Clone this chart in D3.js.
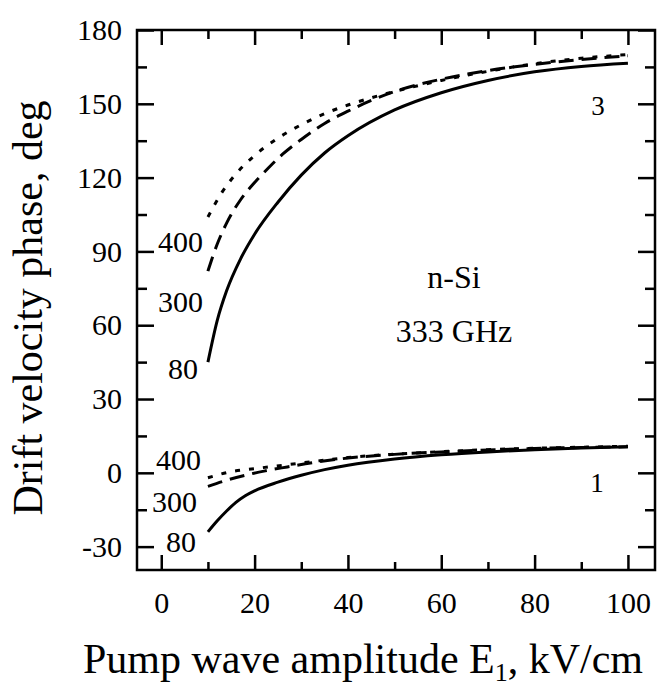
<!DOCTYPE html>
<html lang="en">
<head>
  <meta charset="UTF-8">
  <title>Drift velocity phase</title>
  <style>
    body { margin: 0; background: #fff; }
    svg text { font-family: "Liberation Serif", "DejaVu Serif", serif; fill: #000; }
    .axis path { display: none; }
    .axis line { stroke: #000; stroke-width: 2.5px; }
  </style>
</head>
<body>
  <svg id="chart" width="659" height="694"></svg>
  <script src="https://d3js.org/d3.v7.min.js"></script>
  <script>
    // harmonic 3 (upper group)
    const up80X = [10, 12, 14, 17, 20, 25, 30, 35, 40, 50, 60, 70, 80, 90, 100];
    const up80Y = [45, 62, 74, 87, 97, 110, 121, 130, 137, 147.5, 154.5, 159.5, 163, 165.2, 166.5];
    const up300X = [10, 12, 14, 17, 20, 23, 26, 30, 35, 40, 50, 60, 70, 80, 90, 100];
    const up300Y = [82, 93, 101.5, 111, 118, 124, 129.5, 135.5, 142, 147, 155, 160, 163.5, 166, 168, 169.5];
    const up400X = [10, 13, 16, 20, 25, 30, 35, 40, 50, 60, 70, 80, 90, 100];
    const up400Y = [104, 114, 121.5, 129, 136, 141.5, 146, 149.5, 155, 159.5, 163.2, 166.3, 168.5, 170];

    // harmonic 1 (lower group)
    const lo80X = [10, 12, 14, 16, 18, 20, 25, 30, 35, 40, 50, 60, 70, 80, 90, 100];
    const lo80Y = [-24, -19.5, -15.5, -12, -9.3, -7.3, -3.8, -1, 1.3, 3.1, 5.6, 7.3, 8.5, 9.4, 10.1, 10.6];
    const lo300X = [10, 14, 18, 22, 27, 33, 40, 50, 60, 70, 80, 90, 100];
    const lo300Y = [-5.5, -3, -1, 0.7, 2.4, 4.3, 6, 7.5, 8.5, 9.3, 9.9, 10.3, 10.6];
    const lo400X = [10, 15, 20, 27, 33, 40, 50, 60, 70, 80, 90, 100];
    const lo400Y = [-2, 0.5, 1.7, 3.3, 4.7, 6.2, 7.6, 8.6, 9.4, 10, 10.4, 10.8];

    const xTicks = [0, 20, 40, 60, 80, 100];
    const xMinor = [10, 30, 50, 70, 90];
    const yTicks = [-30, 0, 30, 60, 90, 120, 150, 180];
    const yMinor = [-15, 15, 45, 75, 105, 135, 165];

    const svg = d3.select("#chart");
    const x = d3.scaleLinear().domain([-5.2, 105.8]).range([137, 655]);
    const y = d3.scaleLinear().domain([-39.5, 180]).range([570, 30]);
    const frameL = 137, frameR = 655, frameT = 30, frameB = 570;

    const zip = (xs, ys) => xs.map((v, i) => [v, ys[i]]);

    const series = [
      { pts: zip(up80X, up80Y), dash: null },
      { pts: zip(up300X, up300Y), dash: "15,8" },
      { pts: zip(up400X, up400Y), dash: "5,9" },
      { pts: zip(lo80X, lo80Y), dash: null },
      { pts: zip(lo300X, lo300Y), dash: "15,8" },
      { pts: zip(lo400X, lo400Y), dash: "5,9" }
    ];

    const curveGen = d3.line()
      .x(d => x(d[0]))
      .y(d => y(d[1]))
      .curve(d3.curveMonotoneX);

    svg.selectAll("path.curve")
      .data(series)
      .enter()
      .append("path")
      .attr("class", "curve")
      .attr("d", d => curveGen(d.pts))
      .attr("fill", "none")
      .attr("stroke", "black")
      .attr("stroke-width", 3)
      .attr("stroke-dasharray", d => d.dash);

    // axes: major ticks with labels, minor ticks without, all pointing inward
    const addAxis = (axisFn, scale, vals, size, tx, ty, labelled, pad) => {
      const a = axisFn(scale).tickValues(vals).tickSizeInner(-size).tickSizeOuter(0).tickPadding(pad || 0);
      a.tickFormat(labelled ? (d => String(d)) : "");
      svg.append("g")
        .attr("class", "axis")
        .attr("transform", "translate(" + tx + "," + ty + ")")
        .call(a);
    };
    addAxis(d3.axisBottom, x, xTicks, 15, 0, frameB, true, 22);
    addAxis(d3.axisBottom, x, xMinor, 8, 0, frameB, false);
    addAxis(d3.axisTop, x, xTicks, 15, 0, frameT, false);
    addAxis(d3.axisTop, x, xMinor, 9, 0, frameT, false);
    addAxis(d3.axisLeft, y, yTicks, 17, frameL, 0, true, 15);
    addAxis(d3.axisLeft, y, yMinor, 10, frameL, 0, false);
    addAxis(d3.axisRight, y, yTicks, 17, frameR, 0, false);
    addAxis(d3.axisRight, y, yMinor, 10, frameR, 0, false);

    svg.selectAll(".axis text")
      .style("font-size", "30px")
      .attr("font-family", null);

    // frame
    svg.append("rect")
      .attr("x", frameL).attr("y", frameT)
      .attr("width", frameR - frameL).attr("height", frameB - frameT)
      .attr("fill", "none").attr("stroke", "black").attr("stroke-width", 2.5);

    // axis titles
    const xt = svg.append("text")
      .attr("x", 363).attr("y", 673)
      .attr("text-anchor", "middle")
      .style("font-size", "42px");
    xt.append("tspan").text("Pump wave amplitude E");
    xt.append("tspan").attr("dy", 8).style("font-size", "26px").text("1");
    xt.append("tspan").attr("dy", -8).text(", kV/cm");

    svg.append("text")
      .attr("transform", "translate(42,308) rotate(-90)")
      .attr("text-anchor", "middle")
      .style("font-size", "42px")
      .text("Drift velocity phase, deg");

    // curve labels
    const labels = [
      ["400", 203, 252], ["300", 203, 312], ["80", 198, 379],
      ["400", 201, 470], ["300", 197, 512], ["80", 196, 552]
    ];
    svg.selectAll("text.clab")
      .data(labels)
      .enter()
      .append("text")
      .attr("class", "clab")
      .attr("x", d => d[1])
      .attr("y", d => d[2])
      .attr("text-anchor", "end")
      .style("font-size", "30px")
      .text(d => d[0]);

    svg.append("text").attr("x", 598).attr("y", 115).attr("text-anchor", "middle")
      .style("font-size", "27px").text("3");
    svg.append("text").attr("x", 597).attr("y", 492).attr("text-anchor", "middle")
      .style("font-size", "27px").text("1");

    svg.append("text").attr("x", 454).attr("y", 288).attr("text-anchor", "middle")
      .style("font-size", "32px").text("n-Si");
    svg.append("text").attr("x", 454).attr("y", 342).attr("text-anchor", "middle")
      .style("font-size", "32px").text("333 GHz");
  </script>
</body>
</html>
